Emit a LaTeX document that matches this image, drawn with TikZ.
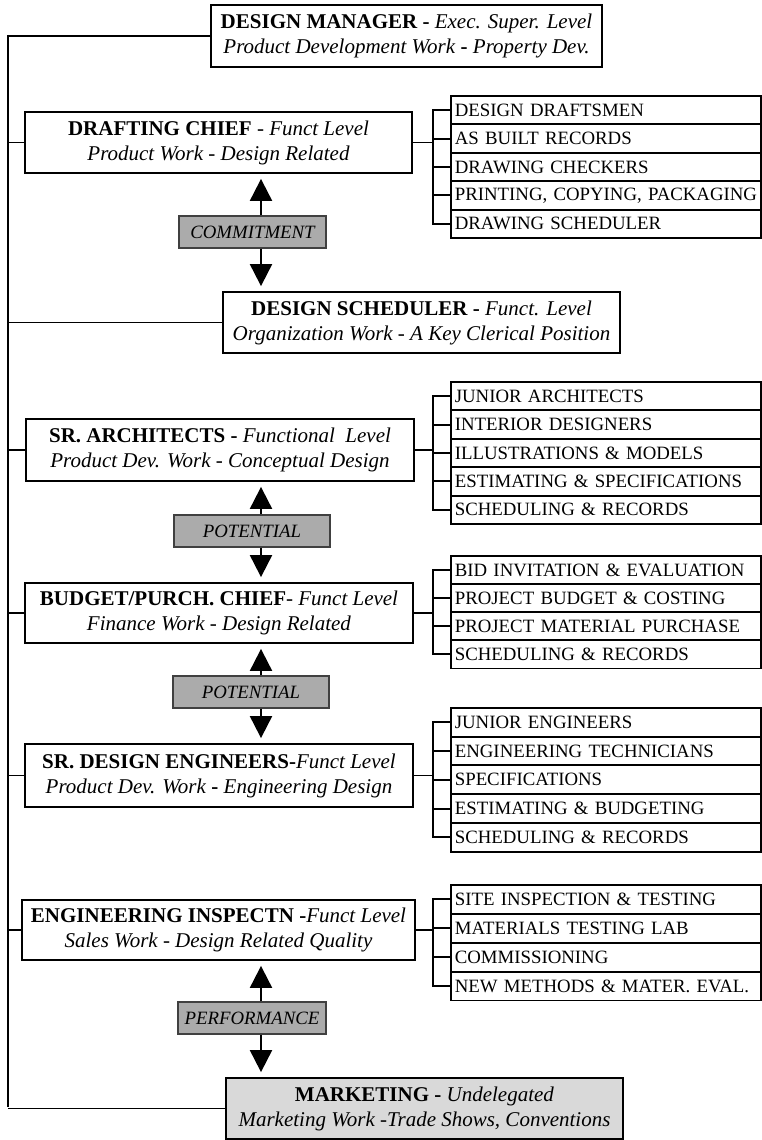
\documentclass[tikz,border=0pt]{standalone}
\usepackage{fontspec}
\setmainfont{Liberation Serif}
\usetikzlibrary{arrows.meta}
\begin{document}
\begin{tikzpicture}[x=1pt,y=-1pt,
  mainbox/.style={draw, line width=1.8pt, fill=white, align=center, inner sep=0pt,
    font=\fontsize{21}{25}\selectfont},
  item/.style={draw, line width=1.7pt, anchor=north west, minimum height=28.6pt,
    inner xsep=4pt, inner ysep=0pt, text width=302pt, align=left,
    font=\fontsize{18.8}{20}\selectfont},
  lab/.style={draw=black!75, line width=1.2pt, fill=black!33, minimum height=32pt,
    inner sep=0pt, font=\fontsize{18.8}{20}\selectfont\itshape},
  conn/.style={line width=1.9pt},
  arr/.style={line width=2pt, -{Triangle[width=22pt,length=22pt]}, shorten >=5pt}
]
\useasboundingbox (0,0) rectangle (762,1140);
\coordinate (ttop) at (8,35);
\coordinate (tbot) at (8,1107);
\coordinate (bx) at (433,0);
\coordinate (ax) at (261,0);

% main boxes
\node[mainbox, minimum width=391pt, minimum height=62pt] (dm) at (406.5,36)
  {\textbf{DESIGN MANAGER -} \textit{Exec. Super. Level}\\ \textit{Product Development Work} \textbf{-} \textit{Property Dev.}};
\node[mainbox, minimum width=387pt, minimum height=61pt] (dc) at (218.5,142.5)
  {\textbf{DRAFTING CHIEF} - \textit{Funct Level}\\ \textit{Product Work - Design Related}};
\node[mainbox, minimum width=397pt, minimum height=61pt] (ds) at (421.5,322.5)
  {\textbf{DESIGN SCHEDULER -} \textit{Funct. Level}\\ \textit{Organization Work - A Key Clerical Position}};
\node[mainbox, minimum width=388pt, minimum height=62pt] (sa) at (220,450)
  {\textbf{SR. ARCHITECTS -} \textit{Functional\ \ Level}\\ \textit{Product Dev. Work - Conceptual Design}};
\node[mainbox, minimum width=388pt, minimum height=60pt] (bp) at (219,613)
  {\textbf{BUDGET/PURCH. CHIEF}- \textit{Funct Level}\\ \textit{Finance Work - Design Related}};
\node[mainbox, minimum width=388pt, minimum height=63pt] (se) at (219,775.5)
  {\textbf{SR. DESIGN ENGINEERS-}\textit{Funct Level}\\ \textit{Product Dev. Work} \textbf{-} \textit{Engineering Design}};
\node[mainbox, minimum width=393pt, minimum height=60pt] (ei) at (218.5,930)
  {\textbf{ENGINEERING INSPECTN -}\textit{Funct Level}\\ \textit{Sales Work - Design Related Quality}};
\node[mainbox, fill=black!15, minimum width=397pt, minimum height=61pt] (mk) at (424.5,1108.5)
  {\textbf{MARKETING -} \textit{Undelegated}\\ \textit{Marketing Work -Trade Shows, Conventions}};

% trunk
\draw[conn] (ttop) -- (tbot);
\foreach \b in {dm,dc,ds,sa,bp,se,ei,mk} \draw[conn] (\b.west) -- (\b.west -| ttop);

% labels
\node[lab, minimum width=147pt] (l1) at (252.5,232) {COMMITMENT};
\node[lab, minimum width=156pt] (l2) at (252,531) {POTENTIAL};
\node[lab, minimum width=156pt] (l3) at (251,692) {POTENTIAL};
\node[lab, minimum width=148pt] (l4) at (252,1018) {PERFORMANCE};

\draw[arr] (l1.north -| ax) -- (dc.south -| ax);
\draw[arr] (l1.south -| ax) -- (ds.north -| ax);
\draw[arr] (l2.north -| ax) -- (sa.south -| ax);
\draw[arr] (l2.south -| ax) -- (bp.north -| ax);
\draw[arr] (l3.north -| ax) -- (bp.south -| ax);
\draw[arr] (l3.south -| ax) -- (se.north -| ax);
\draw[arr] (l4.north -| ax) -- (ei.south -| ax);
\draw[arr] (l4.south -| ax) -- (mk.north -| ax);

% lists
\foreach \t [count=\i] in {DESIGN DRAFTSMEN, AS BUILT RECORDS, DRAWING CHECKERS, {PRINTING, COPYING, PACKAGING}, DRAWING SCHEDULER}
  \node[item] (a\i) at (450,{95+(\i-1)*28.4}) {\mbox{\t}};
\foreach \t [count=\i] in {JUNIOR ARCHITECTS, INTERIOR DESIGNERS, ILLUSTRATIONS \& MODELS, ESTIMATING \& SPECIFICATIONS, SCHEDULING \& RECORDS}
  \node[item] (b\i) at (450,{381+(\i-1)*28.4}) {\mbox{\t}};
\foreach \t [count=\i] in {BID INVITATION \& EVALUATION, PROJECT BUDGET \& COSTING, PROJECT MATERIAL PURCHASE, SCHEDULING \& RECORDS}
  \node[item] (c\i) at (450,{555+(\i-1)*28}) {\mbox{\t}};
\foreach \t [count=\i] in {JUNIOR ENGINEERS, ENGINEERING TECHNICIANS, SPECIFICATIONS, ESTIMATING \& BUDGETING, SCHEDULING \& RECORDS}
  \node[item] (d\i) at (450,{707+(\i-1)*28.8}) {\mbox{\t}};
\foreach \t [count=\i] in {SITE INSPECTION \& TESTING, MATERIALS TESTING LAB, COMMISSIONING, NEW METHODS \& MATER. EVAL.}
  \node[item] (e\i) at (450,{884+(\i-1)*29}) {\mbox{\t}};

% brackets
\draw[conn] (dc.east) -- (dc.east -| bx);
\draw[conn] (a1.west) -- (a1.west -| bx) -- (a5.west -| bx) -- (a5.west);
\foreach \i in {2,3,4} \draw[conn] (a\i.west -| bx) -- (a\i.west);
\draw[conn] (sa.east) -- (sa.east -| bx);
\draw[conn] (b1.west) -- (b1.west -| bx) -- (b5.west -| bx) -- (b5.west);
\foreach \i in {2,3,4} \draw[conn] (b\i.west -| bx) -- (b\i.west);
\draw[conn] (bp.east) -- (bp.east -| bx);
\draw[conn] (c1.west) -- (c1.west -| bx) -- (c4.west -| bx) -- (c4.west);
\foreach \i in {2,3} \draw[conn] (c\i.west -| bx) -- (c\i.west);
\draw[conn] (se.east) -- (se.east -| bx);
\draw[conn] (d1.west) -- (d1.west -| bx) -- (d5.west -| bx) -- (d5.west);
\foreach \i in {2,3,4} \draw[conn] (d\i.west -| bx) -- (d\i.west);
\draw[conn] (ei.east) -- (ei.east -| bx);
\draw[conn] (e1.west) -- (e1.west -| bx) -- (e4.west -| bx) -- (e4.west);
\foreach \i in {2,3} \draw[conn] (e\i.west -| bx) -- (e\i.west);
\end{tikzpicture}
\end{document}
